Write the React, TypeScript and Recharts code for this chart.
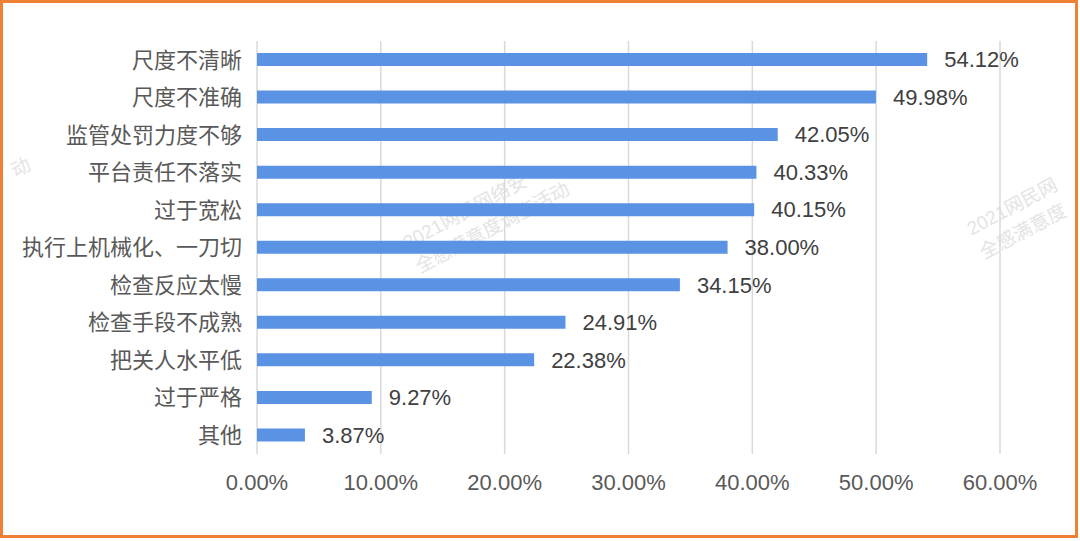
import { BarChart, Bar, XAxis, YAxis, CartesianGrid, LabelList } from "recharts";

const categories = [
  "尺度不清晰",
  "尺度不准确",
  "监管处罚力度不够",
  "平台责任不落实",
  "过于宽松",
  "执行上机械化、一刀切",
  "检查反应太慢",
  "检查手段不成熟",
  "把关人水平低",
  "过于严格",
  "其他",
];
const values = [54.12, 49.98, 42.05, 40.33, 40.15, 38.0, 34.15, 24.91, 22.38, 9.27, 3.87];
const xTicks = [0, 10, 20, 30, 40, 50, 60];

const data = categories.map((name, i) => ({ name, value: values[i] }));

const FONT = "'Liberation Sans', 'Noto Sans CJK SC', sans-serif";

function Watermark({ left, top, lines }: { left: number; top: number; lines: string[] }) {
  return (
    <div
      style={{
        position: "absolute",
        left,
        top,
        fontSize: 19,
        lineHeight: "27px",
        color: "#e4e4e4",
        fontFamily: FONT,
        transform: "rotate(-28deg)",
        transformOrigin: "left top",
        whiteSpace: "nowrap",
      }}
    >
      {lines.map((l, i) => (
        <div key={i}>{l}</div>
      ))}
    </div>
  );
}

export default function App() {
  return (
    <div
      style={{
        position: "fixed",
        left: 0,
        top: 0,
        width: 1080,
        height: 541,
        overflow: "hidden",
        background: "#fff",
      }}
    >
      <Watermark left={398} top={232} lines={["2021网民网络安", "全感满意度调查活动"]} />
      <Watermark left={962} top={218} lines={["2021网民网", "全感满意度"]} />
      <Watermark left={6} top={160} lines={["动"]} />
      <div style={{ position: "absolute", left: 0, top: 0 }}>
        <BarChart
          width={1080}
          height={541}
          data={data}
          layout="vertical"
          barSize={13}
          margin={{ top: 41, right: 80, bottom: 57, left: 0 }}
        >
          <CartesianGrid horizontal={false} stroke="#d9d9d9" strokeWidth={1.5} />
          <XAxis
            type="number"
            domain={[0, 60]}
            ticks={xTicks}
            interval={0}
            height={30}
            axisLine={false}
            tickLine={false}
            tickMargin={14}
            tickFormatter={(v: number) => `${v.toFixed(2)}%`}
            tick={{ fill: "#595959", fontSize: 22, fontFamily: FONT }}
          />
          <YAxis
            type="category"
            dataKey="name"
            width={257}
            interval={0}
            axisLine={false}
            tickLine={false}
            tickMargin={9}
            tick={{ fill: "#595959", fontSize: 22, fontFamily: FONT }}
          />
          <Bar dataKey="value" fill="#5a92e4" isAnimationActive={false}>
            <LabelList
              dataKey="value"
              position="right"
              offset={17}
              formatter={(v: number) => `${v.toFixed(2)}%`}
              style={{ fill: "#404040", fontSize: 22, fontFamily: FONT }}
            />
          </Bar>
        </BarChart>
      </div>
      <div
        style={{
          position: "absolute",
          left: 0,
          top: 0,
          width: 1078,
          height: 538,
          boxSizing: "border-box",
          border: "3px solid #ef8035",
          pointerEvents: "none",
        }}
      />
    </div>
  );
}
